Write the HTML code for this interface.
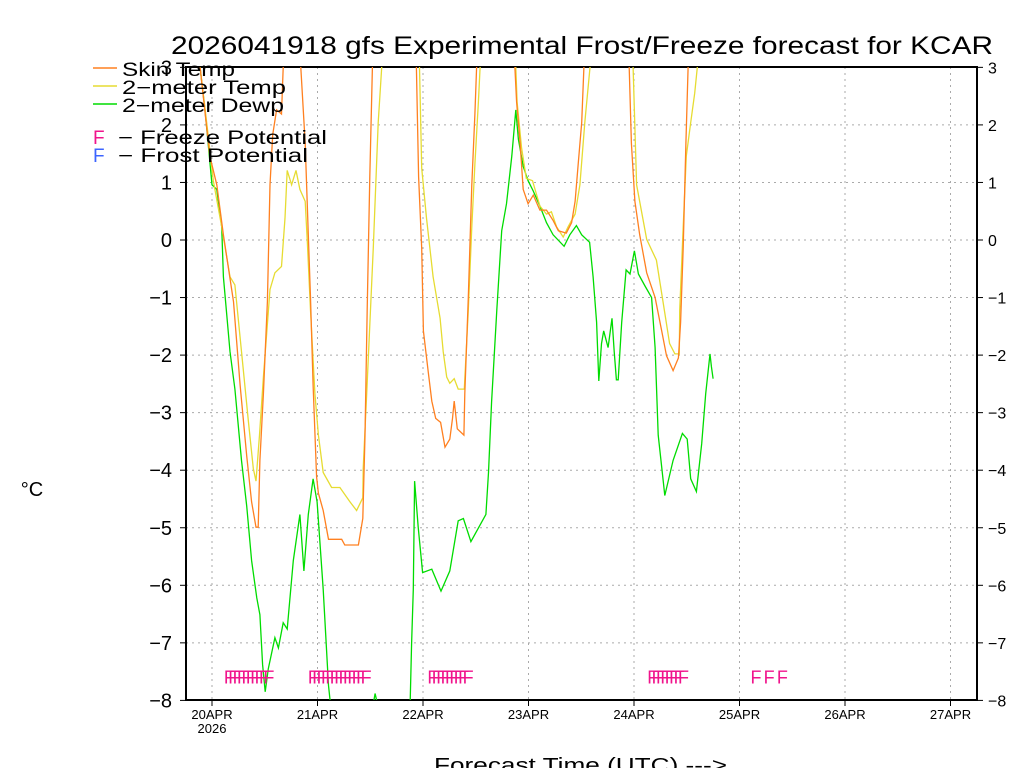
<!DOCTYPE html>
<html><head><meta charset="utf-8">
<style>
html,body{margin:0;padding:0;background:#fff;}
svg{display:block;font-family:"Liberation Sans",sans-serif;}
</style></head>
<body>
<svg id="chart" width="1024" height="768" viewBox="0 0 1024 768">
<defs><clipPath id="plotclip"><rect x="186" y="67" width="791" height="633"/></clipPath></defs>
<text x="171" y="54" textLength="822" lengthAdjust="spacingAndGlyphs" font-size="25" fill="#000">2026041918 gfs Experimental Frost/Freeze forecast for KCAR</text>
<g id="grid"></g>
<g id="axes"></g>
<g id="series" clip-path="url(#plotclip)"></g>
<g id="freeze"></g>
<g id="legend">
  <line x1="93" y1="68" x2="117" y2="68" stroke="#ff8020" stroke-width="1.5"/>
  <text x="122" y="76" font-size="19" textLength="113" lengthAdjust="spacingAndGlyphs" fill="#000">Skin Temp</text>
  <line x1="93" y1="86" x2="117" y2="86" stroke="#e6dc32" stroke-width="1.5"/>
  <text x="122" y="94" font-size="19" textLength="164" lengthAdjust="spacingAndGlyphs" fill="#000">2−meter Temp</text>
  <line x1="93" y1="104" x2="117" y2="104" stroke="#00dc00" stroke-width="1.5"/>
  <text x="122" y="112" font-size="19" textLength="162" lengthAdjust="spacingAndGlyphs" fill="#000">2−meter Dewp</text>
  <text x="93" y="144" font-size="19" fill="#f0148c">F</text>
  <text x="118" y="144" font-size="19" textLength="209" lengthAdjust="spacingAndGlyphs" fill="#000">−  Freeze Potential</text>
  <text x="93" y="162" font-size="19" fill="#3c64ff">F</text>
  <text x="118" y="162" font-size="19" textLength="190" lengthAdjust="spacingAndGlyphs" fill="#000">−  Frost Potential</text>
</g>
<text x="32" y="496" text-anchor="middle" font-size="20" fill="#000">°C</text>
<text x="434" y="772" textLength="293" lengthAdjust="spacingAndGlyphs" font-size="20" fill="#000">Forecast Time (UTC) ---&gt;</text>
</svg>
<script>
// hours since 20APR 00Z
const skinHours = [-2.7,-0.5,1.1,2.6,4.9,6.4,7.9,9.0,10.0,10.5,10.9,11.7,12.6,13.2,13.8,14.7,15.8,16.2,18,20.2,21.2,21.9,22.4,23.0,23.8,24.2,25.3,26.5,29.5,30.2,33.3,34.3,34.8,35.3,35.9,36.5,42,46.5,47.0,47.7,48.1,49.2,50,50.9,52,53,54.1,54.7,55.1,55.8,57.3,57.5,58.3,59.1,59.8,60.2,65,68.9,69.3,70.1,70.8,71.9,73.1,74.6,76.1,77.6,78.8,80.6,81.8,82.6,83.3,84.1,84.6,90,94.9,95.4,96.2,97.3,98.9,100.8,102.3,103.4,104.9,106.1,106.6,107.2,107.8,108.3,110];
const skinVals = [3,1.46,0.96,0.09,-1.07,-2.52,-3.75,-4.55,-4.99,-4.99,-3.83,-2.67,-1.07,0.96,1.83,2.26,2.19,3,6,3,1.68,0.09,-1.0,-2.52,-4.12,-4.4,-4.7,-5.2,-5.2,-5.3,-5.3,-4.84,-3.4,-1.2,1.1,3,8,3,1.1,-0.14,-1.58,-2.3,-2.8,-3.1,-3.17,-3.6,-3.46,-3.1,-2.8,-3.28,-3.39,-2.67,-1.0,0.96,2.19,3,8,3,2.4,1.68,0.88,0.63,0.78,0.52,0.52,0.34,0.16,0.12,0.3,0.67,1.32,2.04,3,8,3,1.68,0.67,0.09,-0.57,-1.0,-1.58,-2.01,-2.27,-2.05,-1.43,-0.13,1.68,3,5];
const t2mHours = [-2.7,-1.2,0.3,2.2,4.1,5.2,6.7,8.3,9.4,10,10.8,11.7,13.2,14.3,15.8,16.6,17.1,18.1,19.1,20.0,21.2,21.7,22.4,23.4,24.2,25.3,27.2,29.1,31.4,32.9,34.3,34.4,35.2,36.7,37.8,38.6,43,47.2,47.7,48.8,50.3,51.9,52.6,53.4,54.1,55.1,56,57.4,58.3,59.1,59.8,60.6,61,65,69.1,69.4,70.4,71.5,72.9,74.6,76.1,77.2,78.4,79.9,81,82.6,83.7,84.8,86,91,95.8,96.6,98.9,101.1,102.6,104.1,105.3,106.3,106.4,107.2,107.9,108.9,109.8,110.4,112];
const t2mVals = [3,2.04,1.03,0.23,-0.64,-0.78,-1.94,-3.17,-3.97,-4.19,-3.39,-2.38,-0.86,-0.57,-0.46,0.38,1.21,0.96,1.21,0.88,0.67,-0.06,-1.22,-2.67,-3.39,-4.04,-4.3,-4.3,-4.55,-4.7,-4.48,-3.97,-2.67,-0.13,2.04,3,8,3,1.25,0.38,-0.64,-1.36,-1.94,-2.38,-2.49,-2.41,-2.59,-2.59,-1.22,0.23,1.32,2.4,3,8,3,2.4,1.61,1.07,1.03,0.59,0.45,0.49,0.23,0.05,0.23,0.45,0.96,2.04,3,8,3,0.96,0.01,-0.35,-1.07,-1.8,-1.98,-1.98,-1.22,0.23,1.46,2.04,2.55,3,5];
const dewHours = [-2.7,-1.6,0,1.1,2.2,2.6,4.1,5.2,6.7,7.9,9.0,10.2,10.9,11.5,12.1,12.8,14.3,15.1,16.2,17.1,18.5,20.0,20.9,21.9,23.0,23.9,25.3,26.5,27.2,30,34,36.6,37.1,37.6,40,45,45.4,45.8,46.1,46.9,47.9,50,52.1,54.1,56,57.2,58.9,62.3,62.9,63.6,64.8,65.9,67,68.2,69.1,69.7,70.8,71.9,73.1,74.6,76.1,77.6,80.1,81.4,82.9,84.1,85.9,86.7,87.5,88,88.6,89.1,90.1,91,91.5,92,92.4,93.2,94.2,95.1,96.1,97,98.5,100,100.8,101.5,103,104.9,107,108.1,108.9,110.2,111.4,112.3,113.3,113.6,114];
const dewVals = [3,2.26,0.96,0.88,0.23,-0.64,-1.94,-2.59,-3.83,-4.62,-5.57,-6.22,-6.51,-7.38,-7.85,-7.45,-6.91,-7.09,-6.65,-6.76,-5.57,-4.77,-5.75,-4.77,-4.15,-4.55,-6.07,-7.74,-8.25,-8.6,-8.3,-8.1,-7.88,-8.05,-8.5,-8.3,-7.01,-6.07,-4.19,-4.99,-5.78,-5.72,-6.1,-5.75,-4.88,-4.84,-5.24,-4.77,-4.04,-2.81,-1.22,0.16,0.63,1.46,2.26,1.75,1.28,1.03,0.85,0.59,0.3,0.09,-0.11,0.09,0.25,0.09,-0.04,-0.64,-1.43,-2.45,-1.8,-1.58,-1.87,-1.36,-1.94,-2.43,-2.43,-1.43,-0.52,-0.59,-0.19,-0.59,-0.8,-1.0,-1.87,-3.39,-4.44,-3.83,-3.36,-3.46,-4.15,-4.37,-3.54,-2.67,-1.98,-2.2,-2.41];
const freezeHours = [2.7,3.7,4.7,5.7,6.7,7.7,8.7,9.7,10.7,11.7,21.8,22.8,23.8,24.8,25.8,26.8,27.8,28.8,29.8,30.8,31.8,32.8,33.8,49,50,51,52,53,54,55,56,57,99,100,101,102,103,104,105,106,122.5,125.5,128.5];
const freezeLevel = -7.55;
const yTicks = [-8,-7,-6,-5,-4,-3,-2,-1,0,1,2,3];
const dayLabels = ["20APR","21APR","22APR","23APR","24APR","25APR","26APR","27APR"];

const NS="http://www.w3.org/2000/svg";
const X0=212, PXH=105.5/24, Y0=240, PXV=57.55;
const xs=h=>X0+h*PXH, ys=v=>Y0-v*PXV;
function mk(tag,attrs,parent){const e=document.createElementNS(NS,tag);for(const k in attrs)e.setAttribute(k,attrs[k]);parent.appendChild(e);return e;}
const grid=document.getElementById('grid'), axes=document.getElementById('axes');
yTicks.forEach(v=>{
  if(v>-8&&v<3){const l=mk('line',{x1:186,x2:977,y1:ys(v),y2:ys(v),stroke:'#aaa','stroke-dasharray':'2,4'},grid);
  
  }
  const t=mk('text',{x:172,y:ys(v)+7,'text-anchor':'end','font-size':20,fill:'#000'},axes);
  t.textContent=(v<0?'−':'')+Math.abs(v);
  
  
  const t2=mk('text',{x:988,y:ys(v)+6,'font-size':16,fill:'#000'},axes);
  t2.textContent=(v<0?'−':'')+Math.abs(v);
  
  
  mk('line',{x1:180,x2:186,y1:ys(v),y2:ys(v),stroke:'#000'},axes);
  mk('line',{x1:977,x2:983,y1:ys(v),y2:ys(v),stroke:'#000'},axes);
});
dayLabels.forEach((d,i)=>{
  const x=xs(i*24);
  const l=mk('line',{x1:x,x2:x,y1:67,y2:700,stroke:'#aaa','stroke-dasharray':'2,4'},grid);
  
  
  mk('line',{x1:x,x2:x,y1:700,y2:706,stroke:'#000'},axes);
  const t=mk('text',{x:x,y:719,'text-anchor':'middle','font-size':13,fill:'#000'},axes);
  t.textContent=d;
  
  
});
const yr=mk('text',{x:xs(0),y:733,'text-anchor':'middle','font-size':13,fill:'#000'},axes);
yr.textContent='2026';


const fr=mk('rect',{x:186,y:67,width:791,height:633,fill:'none',stroke:'#000','stroke-width':2},axes);


const ser=document.getElementById('series');
function line(hs,vs,color,name){
  const p=mk('polyline',{points:hs.map((h,i)=>xs(h).toFixed(1)+','+ys(vs[i]).toFixed(1)).join(' '),fill:'none',stroke:color,'stroke-width':1.3},ser);
  
  
}
line(dewHours,dewVals,'#00dc00','dewpoint-line');
line(t2mHours,t2mVals,'#e6dc32','2m-temp-line');
line(skinHours,skinVals,'#ff8020','skin-temp-line');
const fz=document.getElementById('freeze');
freezeHours.forEach(h=>{
  const t=mk('text',{x:xs(h),y:ys(freezeLevel)+9,'font-size':18,fill:'#f0148c'},fz);
  t.textContent='F';
  
  
});
</script>
</body></html>
